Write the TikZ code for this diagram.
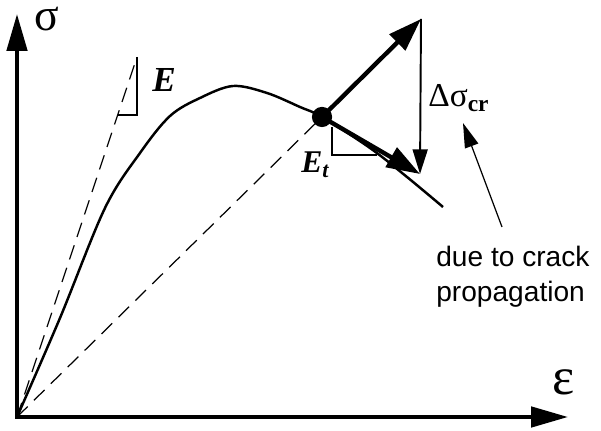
\documentclass[tikz,border=0pt]{standalone}
\usepackage{fontspec}
\setmainfont{Liberation Serif}
\newfontfamily\labelsans{Liberation Sans}
\usetikzlibrary{arrows.meta}
\tikzset{
  axis/.style={line width=2.3pt, {Triangle[length=21pt,width=11.5pt]}-{Triangle[length=21pt,width=11.5pt]}},
  curve/.style={line width=1.4pt, line join=round},
  thickarrow/.style={line width=2.5pt, -{Triangle[length=19pt,width=12.5pt]}},
  vertarrow/.style={line width=1.1pt, -{Triangle[length=14pt,width=8.5pt]}},
  annarrow/.style={line width=0.7pt, -{Triangle[length=14pt,width=8pt]}},
  tangent/.style={line width=0.7pt, dash pattern=on 8.5pt off 5pt},
  thin/.style={line width=0.6pt},
  dotnode/.style={circle, fill=black, inner sep=0pt, minimum size=11.5pt},
  greek/.style={inner sep=0pt, font=\fontsize{26}{30}\selectfont},
  slabel/.style={inner sep=0pt, font=\fontsize{20}{24}\selectfont\bfseries\itshape},
  note/.style={inner sep=0pt, font=\labelsans\fontsize{16}{19}\selectfont},
}
\begin{document}
\begin{tikzpicture}[x=0.02cm, y=-0.02cm]
\useasboundingbox (0,0) rectangle (601,431);
% coordinates
\coordinate (O) at (17,417);
\coordinate (ytip) at (17,14);
\coordinate (xtip) at (568,417);
\coordinate (Etop) at (137,57);
\coordinate (Ecorner) at (137,115);
\coordinate (Eleft) at (118,115);
\coordinate (top) at (421,19);
\coordinate (bot) at (420,174);
\coordinate (Etv) at (332,127);
\coordinate (Etcorner) at (332,155);
\coordinate (Etright) at (377,155);
\coordinate (annstart) at (502,227);
\coordinate (anntip) at (463,123);
% dot
\node[dotnode] (P) at (322,117) {};
% axes
\draw[axis] (ytip) -- (O) -- (xtip);
% dashed tangent lines
\draw[tangent] (O) -- (Etop);
\draw[tangent] (O) -- (P.center);
% slope triangles
\draw[thin] (Etop) -- (Ecorner) -- (Eleft);
\draw[thin] (Etv) -- (Etcorner) -- (Etright);
% curve
\draw[curve] plot[smooth, tension=0.55] coordinates {(17,417) (60,318) (105,208) (140,153) (170,116) (200,98) (233,86) (267,93) (300,107) (322,117) (370,148) (407,177) (443,207)};
% arrows
\draw[thickarrow] (P.center) -- (top);
\draw[vertarrow] (top) -- (bot);
\draw[thickarrow] (P.center) -- (bot);
\draw[annarrow] (annstart) -- (anntip);
% labels
\node[greek, anchor=base] (sig) at (47,31) {σ};
\node[greek, anchor=base, font=\fontsize{30}{33}\selectfont] (eps) at (564,395) {ε};
\node[slabel, anchor=base] (E) at (164,92) {E};
\node[slabel, anchor=base west, font=\fontsize{18}{22}\selectfont\bfseries\itshape] (Et) at (301,173) {E\textsubscript{t}};
\node[inner sep=0pt, anchor=base west, font=\fontsize{19}{23}\selectfont] (ds) at (428,107) {Δσ\textsubscript{\bfseries cr}};
\node[note, anchor=base west] (n1) at (436,267) {due to crack};
\node[note, anchor=base west] (n2) at (436,302) {propagation};
\end{tikzpicture}
\end{document}
